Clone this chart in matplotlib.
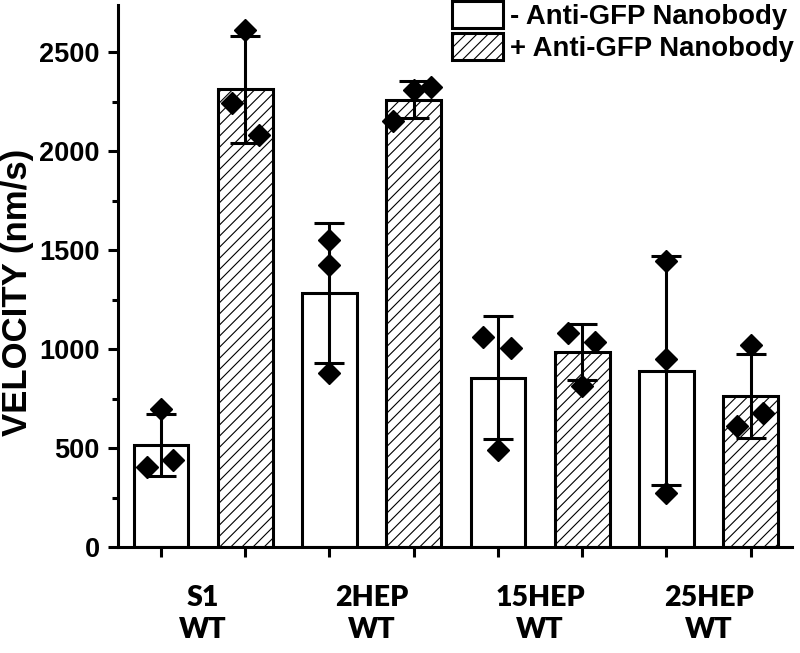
import numpy as np
import matplotlib
matplotlib.use("Agg")
import matplotlib.pyplot as plt

# values (nm/s)
groups = ["S1\nWT", "2HEP\nWT", "15HEP\nWT", "25HEP\nWT"]
minus_mean = [517, 1285, 857, 892]
minus_sd = [156, 354, 309, 580]
plus_mean = [2313, 2262, 985, 766]
plus_sd = [270, 92, 141, 212]
minus_pts = [[697, 407, 441], [1552, 1426, 882], [1060, 1005, 491], [1447, 949, 276]]
plus_pts = [[2612, 2245, 2082], [2309, 2323, 2154], [1084, 1038, 815], [1022, 613, 680]]

# horizontal jitter of the replicate points (fraction of bar spacing)
minus_jit = [[0, -0.17, 0.14], [0, 0, 0], [-0.18, 0.15, 0], [0, 0, 0]]
plus_jit = [[0, -0.16, 0.16], [0, 0.21, -0.25], [-0.17, 0.15, 0], [0, -0.16, 0.15]]

plt.rcParams["hatch.linewidth"] = 0.8
plt.rcParams["font.family"] = ["Liberation Sans", "DejaVu Sans"]
plt.rcParams["font.weight"] = "bold"

fig = plt.figure(figsize=(8, 6.53), dpi=100)
ax = fig.add_axes([0.1475, 0.162, 0.8425, 0.8305])

n = len(groups)
x_minus = 1 + 2 * np.arange(n)
x_plus = x_minus + 1
w = 0.65
lw = 2.2

b1 = ax.bar(x_minus, minus_mean, width=w, facecolor="white", edgecolor="black",
            linewidth=lw, label="- Anti-GFP Nanobody", zorder=2)
b2 = ax.bar(x_plus, plus_mean, width=w, facecolor="white", edgecolor="black",
            linewidth=lw, hatch="///", label="+ Anti-GFP Nanobody", zorder=2)

ax.errorbar(x_minus, minus_mean, yerr=minus_sd, fmt="none", ecolor="black",
            elinewidth=lw, capsize=11, capthick=lw, zorder=3)
ax.errorbar(x_plus, plus_mean, yerr=plus_sd, fmt="none", ecolor="black",
            elinewidth=lw, capsize=11, capthick=lw, zorder=3)

for i in range(n):
    ax.plot(x_minus[i] + np.array(minus_jit[i]), minus_pts[i], "D", color="black",
            markersize=11, zorder=4, clip_on=False)
    ax.plot(x_plus[i] + np.array(plus_jit[i]), plus_pts[i], "D", color="black",
            markersize=11, zorder=4, clip_on=False)

ax.set_xlim(0.49, 8.49)
ax.set_ylim(0, 2740)

for s in ["top", "right"]:
    ax.spines[s].set_visible(False)
for s in ["left", "bottom"]:
    ax.spines[s].set_linewidth(lw)

ax.set_yticks([0, 500, 1000, 1500, 2000, 2500])
ax.set_yticks(np.arange(250, 2740, 500), minor=True)
ax.tick_params(axis="y", which="major", length=7.5, width=lw, labelsize=19.5, pad=5.5)
ax.tick_params(axis="y", which="minor", length=4, width=lw)

ax.set_xticks(x_minus + 0.5)
ax.set_xticklabels(groups, fontfamily="Lato", fontweight="heavy", fontsize=20.5,
                   linespacing=1.3)
ax.set_xticks(np.concatenate([x_minus, x_plus]), minor=True)
ax.tick_params(axis="x", which="major", length=0, pad=27)
ax.tick_params(axis="x", which="minor", length=7, width=lw)

ax.set_ylabel("VELOCITY (nm/s)", fontsize=25, fontweight="bold")
ax.yaxis.set_label_coords(-0.124, 0.47)

ax.legend(handles=[b1, b2], loc="upper right", bbox_to_anchor=(0.994, 1.0),
          bbox_transform=fig.transFigure, frameon=False, fontsize=19.8,
          handlelength=1.85, handleheight=1.1, handletextpad=0.25,
          labelspacing=0.12, borderaxespad=0.05, borderpad=0.0)

fig.savefig("out.png", dpi=100)
